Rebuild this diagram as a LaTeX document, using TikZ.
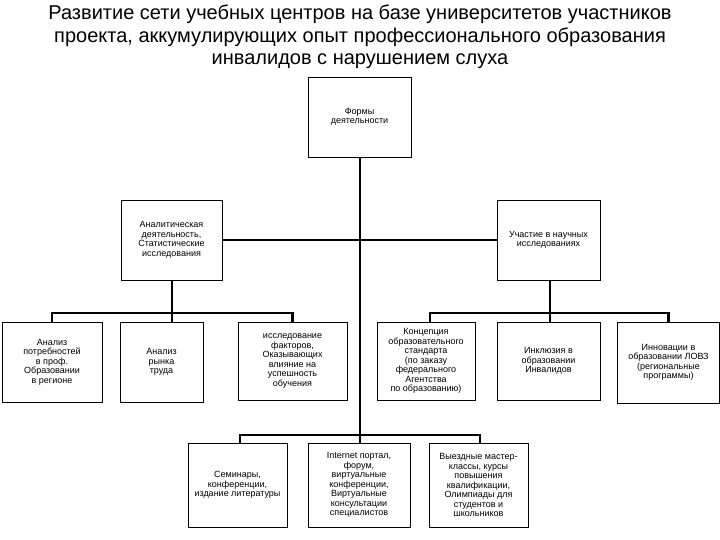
\documentclass[tikz,border=0pt]{standalone}
\usepackage{fontspec}
\setmainfont{Liberation Sans}
\begin{document}
\begin{tikzpicture}[x=1pt, y=-1pt,
  box/.style={draw, line width=0.9pt, inner sep=0pt, align=center,
    font=\fontsize{9}{9.5}\selectfont},
  link/.style={line width=2.2pt}]
  \useasboundingbox (0,0) rectangle (720,540);

  % Title
  \node[align=center, font=\fontsize{20}{22.5}\selectfont] (title) at (360,37)
    {Развитие сети учебных центров на базе университетов участников\\
     проекта, аккумулирующих опыт профессионального образования\\
     инвалидов с нарушением слуха};

  % Top level
  \node[box, minimum width=103, minimum height=80] (forms) at (359.5,117)
    {Формы\\деятельности};

  % Second level
  \node[box, minimum width=101, minimum height=80] (anal) at (171.5,240)
    {Аналитическая\\деятельность,\\Статистические\\исследования};
  \node[box, minimum width=103, minimum height=80] (part) at (548.5,240)
    {Участие в научных\\исследованиях};

  % Third level
  \node[box, minimum width=100, minimum height=80] (needs) at (52,362)
    {Анализ\\потребностей\\в проф.\\Образовании\\в регионе};
  \node[box, minimum width=83, minimum height=80] (market) at (161.5,362)
    {Анализ\\рынка\\труда};
  \node[box, minimum width=109, minimum height=78] (factors) at (292.5,361)
    {исследование\\факторов,\\Оказывающих\\влияние на\\успешность\\обучения};
  \node[box, minimum width=98, minimum height=78] (concept) at (426,361)
    {Концепция\\образовательного\\стандарта\\(по заказу\\федерального\\Агентства\\по образованию)};
  \node[box, minimum width=103, minimum height=78] (incl) at (548.5,361)
    {Инклюзия в\\образовании\\Инвалидов};
  \node[box, minimum width=102, minimum height=81] (innov) at (668.5,362.5)
    {Инновации в\\образовании ЛОВЗ\\(региональные\\программы)};

  % Bottom level
  \node[box, minimum width=99, minimum height=84] (sem) at (237.5,485)
    {Семинары,\\конференции,\\издание литературы};
  \node[box, minimum width=102, minimum height=84] (inet) at (359,485)
    {Internet портал,\\форум,\\виртуальные\\конференции,\\Виртуальные\\консультации\\специалистов};
  \node[box, minimum width=99, minimum height=84] (trips) at (478.5,485)
    {Выездные мастер-\\классы, курсы\\повышения\\квалификации,\\Олимпиады для\\студентов и\\школьников};

  % Junctions
  \coordinate (trunk) at (360,435);
  \coordinate (lbus) at (172,313);
  \coordinate (rbus) at (550,313);

  % Trunk and middle bar
  \draw[link] (forms.south -| trunk) -- (trunk);
  \draw[link] (anal.east) -- (part.west);

  % Left group
  \draw[link] (anal.south -| lbus) -- (market.north -| lbus);
  \draw[link] (needs.north) |- (lbus) -| (factors.north);

  % Right group
  \draw[link] (part.south -| rbus) -- (incl.north -| rbus);
  \draw[link] (430,322) |- (rbus) -| (innov.north);

  % Bottom group
  \draw[link] (sem.north -| 240,0) |- (trunk) -| (trips.north -| 480,0);
  \draw[link] (trunk) -- (inet.north -| trunk);
\end{tikzpicture}
\end{document}
